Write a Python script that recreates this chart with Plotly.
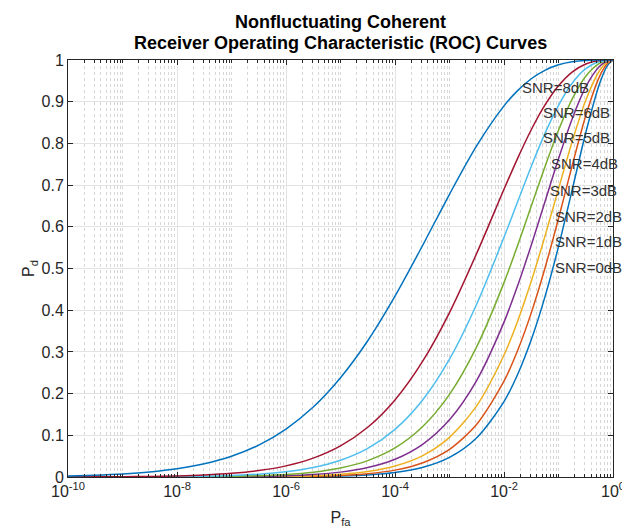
import math
import plotly.graph_objects as go

# Probability of false alarm (x values)
pfa = [1e-10, 3.162e-10, 1e-9, 3.162e-9, 1e-8, 3.162e-8, 1e-7, 3.162e-7, 1e-6, 3.162e-6,
       1e-5, 3.162e-5, 1e-4, 3.162e-4, 1e-3, 3.162e-3, 1e-2, 1.778e-2, 3.162e-2, 5.623e-2,
       1e-1, 1.778e-1, 3.162e-1, 5.623e-1, 7.943e-1, 1.0]

# Probability of detection per SNR curve
pd_8 = [0.0025, 0.0043, 0.0072, 0.0120, 0.0197, 0.0317, 0.0498, 0.0765, 0.1149, 0.1677,
        0.2380, 0.3267, 0.4337, 0.5537, 0.678, 0.7945, 0.8899, 0.9265, 0.955, 0.9753,
        0.9884, 0.9957, 0.9989, 0.9999, 1.0, 1.0]
pd_6 = [0.0002, 0.0004, 0.00075, 0.0014, 0.0026, 0.0048, 0.0087, 0.0154, 0.0267, 0.0452,
        0.0745, 0.1192, 0.1849, 0.2759, 0.3943, 0.5366, 0.690, 0.7642, 0.8327, 0.8916,
        0.9382, 0.9711, 0.9905, 0.9986, 0.9999, 1.0]
pd_5 = [0.00006, 0.0001, 0.00025, 0.0005, 0.001, 0.0019, 0.0036, 0.0068, 0.0126, 0.0228,
        0.0401, 0.0686, 0.1143, 0.1835, 0.2826, 0.4149, 0.575, 0.660, 0.7447, 0.8233,
        0.8912, 0.9442, 0.9792, 0.9962, 0.9996, 1.0]
pd_4 = [0.00002, 0.00004, 0.00009, 0.00018, 0.0004, 0.0008, 0.0015, 0.0031, 0.0060, 0.0115,
        0.0215, 0.0392, 0.0697, 0.1198, 0.198, 0.3125, 0.4661, 0.5553, 0.6497, 0.7435,
        0.8314, 0.9061, 0.961, 0.9918, 0.9989, 1.0]
pd_3 = [0.00001, 0.00001, 0.00003, 0.00007, 0.00015, 0.0003, 0.0007, 0.0014, 0.0029, 0.0059,
        0.0117, 0.0226, 0.0426, 0.0779, 0.1374, 0.2320, 0.3714, 0.4586, 0.556, 0.6595,
        0.763, 0.8586, 0.9357, 0.9844, 0.9976, 1.0]
pd_2 = [0.0, 0.00001, 0.00001, 0.00003, 0.00006, 0.00014, 0.0003, 0.0007, 0.0015, 0.0031,
        0.0065, 0.0132, 0.0263, 0.0508, 0.0951, 0.1711, 0.2926, 0.3737, 0.4693, 0.5767,
        0.691, 0.804, 0.9036, 0.9736, 0.9954, 1.0]
pd_1 = [0.0, 0.0, 0.00001, 0.00001, 0.00003, 0.00007, 0.00015, 0.00034, 0.0008, 0.0017,
        0.0037, 0.0079, 0.0165, 0.0336, 0.0664, 0.1265, 0.2299, 0.3032, 0.3936, 0.5,
        0.6198, 0.7463, 0.8663, 0.9594, 0.992, 1.0]
pd_0 = [0.0, 0.0, 0.0, 0.00001, 0.00001, 0.00003, 0.00008, 0.00018, 0.0004, 0.001,
        0.0022, 0.0048, 0.0106, 0.0226, 0.0469, 0.0941, 0.1809, 0.2457, 0.3289, 0.4313,
        0.5525, 0.688, 0.8254, 0.9419, 0.9873, 1.0]

snr_labels = ["SNR=0dB", "SNR=1dB", "SNR=2dB", "SNR=3dB", "SNR=4dB", "SNR=5dB", "SNR=6dB", "SNR=8dB"]
curves = [pd_0, pd_1, pd_2, pd_3, pd_4, pd_5, pd_6, pd_8]
colors = ["#0072BD", "#D95319", "#EDB120", "#7E2F8E", "#77AC30", "#4DBEEE", "#A2142F", "#0072BD"]

# label anchor points (on curves)
label_pfa = [0.0776, 0.0776, 0.0776, 0.063, 0.068, 0.0468, 0.0468, 0.0200]
label_pd = [0.502, 0.565, 0.625, 0.688, 0.752, 0.814, 0.873, 0.935]

title_lines = ["Nonfluctuating Coherent", "Receiver Operating Characteristic (ROC) Curves"]

x_ticks = [1e-10, 1e-8, 1e-6, 1e-4, 1e-2, 1]
x_ticktext = ["10<sup>-10</sup>", "10<sup>-8</sup>", "10<sup>-6</sup>", "10<sup>-4</sup>",
              "10<sup>-2</sup>", "10<sup>0</sup>"]
y_ticks = [0, 0.1, 0.2, 0.3, 0.4, 0.5, 0.6, 0.7, 0.8, 0.9, 1]
y_ticktext = ["0", "0.1", "0.2", "0.3", "0.4", "0.5", "0.6", "0.7", "0.8", "0.9", "1"]

minor_vals = []
for e in range(-10, 0):
    if e % 2 != 0:
        minor_vals.append(10.0 ** e)
    for m in range(2, 10):
        minor_vals.append(m * 10.0 ** e)

FONT = "Liberation Sans, Arial, sans-serif"

fig = go.Figure()
for name, ys, c in zip(snr_labels, curves, colors):
    fig.add_trace(go.Scatter(x=pfa, y=ys, mode="lines", name=name,
                             line=dict(color=c, width=1.5, shape="spline", smoothing=0.8),
                             showlegend=False, hoverinfo="skip"))

for name, lx, ly in zip(snr_labels, label_pfa, label_pd):
    fig.add_annotation(x=math.log10(lx), y=ly, xref="x", yref="y", text=name, showarrow=False,
                       xanchor="left", yanchor="middle",
                       font=dict(family=FONT, size=15, color="#333333"))

# two-line bold title
for line, shift in zip(title_lines, [38, 17]):
    fig.add_annotation(x=0.5, y=1.0, xref="paper", yref="paper", yshift=shift,
                       text="<b>" + line + "</b>", showarrow=False,
                       xanchor="center", yanchor="middle",
                       font=dict(family=FONT, size=18, color="#000000"))

axis_font = dict(family=FONT, size=16, color="#262626")
fig.update_layout(
    width=622, height=524,
    paper_bgcolor="white", plot_bgcolor="white",
    margin=dict(l=60, r=17, t=52, b=55),
    xaxis=dict(type="log", range=[-10, 0], tickvals=x_ticks, ticktext=x_ticktext,
               automargin=False,
               showgrid=True, gridcolor="#e3e3e3", gridwidth=1,
               showline=True, linecolor="#262626", linewidth=1, mirror="ticks",
               ticks="inside", ticklen=5, tickcolor="#262626", tickfont=axis_font,
               zeroline=False,
               minor=dict(tickvals=minor_vals, showgrid=True, gridcolor="#d6d6d6",
                          griddash="dot", gridwidth=1, ticks="inside", ticklen=3,
                          tickcolor="#262626"),
               title=dict(text="P<sub>fa</sub>", font=dict(family=FONT, size=16, color="#262626"),
                          standoff=12)),
    yaxis=dict(range=[0, 1], tickvals=y_ticks, ticktext=y_ticktext,
               automargin=False,
               showgrid=True, gridcolor="#e3e3e3", gridwidth=1,
               showline=True, linecolor="#262626", linewidth=1, mirror="ticks",
               ticks="inside", ticklen=5, tickcolor="#262626", tickfont=axis_font,
               zeroline=False,
               title=dict(text="P<sub>d</sub>", font=dict(family=FONT, size=16, color="#262626"),
                          standoff=2)),
)

fig.write_html("out.html")
